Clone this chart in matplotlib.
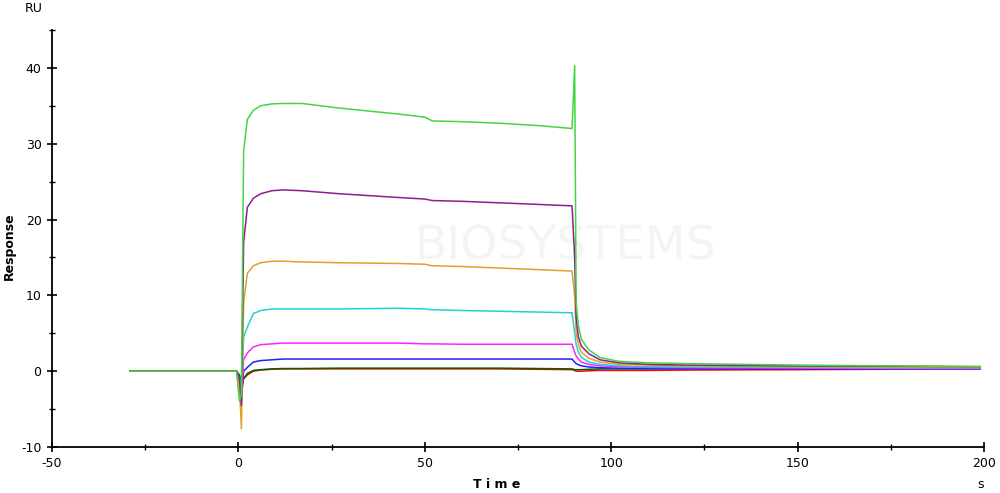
import matplotlib
matplotlib.use("Agg")
import matplotlib.pyplot as plt
from matplotlib.ticker import MultipleLocator

plt.rcParams['axes.unicode_minus'] = False

# time points (s) shared by all sensorgram curves
t = [-29, -0.5, 0.3, 0.8, 1.4, 2.4, 4, 6, 9, 12, 17, 27, 43, 50, 52, 60, 70, 80, 89.5,
     90.2, 90.6, 91.2, 92, 94, 97, 102, 110, 120, 150, 175, 199]

# response (RU) per curve
green = [0, 0, -4, -3, 29, 33.2, 34.4, 35.0, 35.25, 35.3, 35.3, 34.7, 33.9, 33.5, 33.0, 32.9,
         32.7, 32.4, 32.0, 40.3, 9.0, 6.0, 4.2, 2.8, 1.8, 1.3, 1.1, 1.0, 0.8, 0.7, 0.6]
purple = [0, 0, -1, -4.5, 17, 21.6, 22.8, 23.4, 23.8, 23.9, 23.8, 23.4, 22.9, 22.7, 22.5, 22.4,
          22.2, 22.0, 21.8, 15, 7, 4.5, 3.3, 2.3, 1.5, 1.1, 0.9, 0.8, 0.7, 0.65, 0.6]
orange = [0, 0, -2, -7.6, 9, 12.9, 13.9, 14.3, 14.5, 14.5, 14.4, 14.3, 14.2, 14.1, 13.9, 13.8,
          13.6, 13.4, 13.2, 10, 5, 3.5, 2.5, 1.7, 1.2, 0.9, 0.8, 0.7, 0.6, 0.55, 0.5]
cyan = [0, 0, -1, -3, 4.5, 5.8, 7.6, 8.0, 8.2, 8.2, 8.2, 8.2, 8.3, 8.2, 8.1, 8.0,
        7.9, 7.8, 7.7, 5, 3.5, 2.5, 1.8, 1.2, 0.9, 0.7, 0.6, 0.55, 0.5, 0.45, 0.45]
magenta = [0, 0, -1, -4, 1.5, 2.4, 3.2, 3.5, 3.6, 3.7, 3.7, 3.7, 3.7, 3.6, 3.6, 3.55,
           3.55, 3.55, 3.55, 2.5, 2.0, 1.6, 1.2, 0.9, 0.7, 0.6, 0.5, 0.45, 0.4, 0.35, 0.35]
blue = [0, 0, -1, -4, 0, 0.5, 1.2, 1.4, 1.5, 1.6, 1.6, 1.6, 1.6, 1.6, 1.6, 1.6,
        1.6, 1.6, 1.6, 1.2, 1.0, 0.85, 0.7, 0.55, 0.45, 0.4, 0.35, 0.3, 0.3, 0.3, 0.3]
red = [0, 0, -1, -2.5, -1, -0.5, 0.0, 0.15, 0.25, 0.3, 0.3, 0.3, 0.3, 0.3, 0.3, 0.3,
       0.3, 0.25, 0.2, 0.1, 0.0, 0.0, 0.0, 0.05, 0.1, 0.1, 0.1, 0.15, 0.2, 0.25, 0.3]
dark_green = [0, 0, -0.5, -1.5, -1, -0.3, 0.1, 0.2, 0.3, 0.35, 0.35, 0.4, 0.4, 0.4, 0.4, 0.4,
              0.4, 0.35, 0.3, 0.2, 0.2, 0.2, 0.2, 0.25, 0.3, 0.3, 0.3, 0.35, 0.4, 0.4, 0.45]

curves = [
    (red, '#ff0000'),
    (dark_green, '#006400'),
    (blue, '#1f1fff'),
    (magenta, '#ff22ff'),
    (cyan, '#22d2d2'),
    (orange, '#e0a030'),
    (purple, '#8e1e8e'),
    (green, '#44d444'),
]

fig = plt.figure(figsize=(10, 4.93), dpi=100)
ax = fig.add_axes([0.052, 0.0933, 0.932, 0.846])

# faint watermark
ax.text(0.565, 0.50, 'BIOSYSTEMS', transform=fig.transFigure, fontsize=34, color='#f4f4f4',
        ha='center', va='center', zorder=0)

for vals, col in curves:
    ax.plot(t, vals, color=col, linewidth=1.1)

ax.set_xlim(-50, 200)
ax.set_ylim(-10, 45)
for side in ['top', 'right']:
    ax.spines[side].set_visible(False)
for side in ['left', 'bottom']:
    ax.spines[side].set_linewidth(1.3)

ax.set_xticks([-50, 0, 50, 100, 150, 200])
ax.set_yticks([-10, 0, 10, 20, 30, 40])
ax.xaxis.set_minor_locator(MultipleLocator(25))
ax.yaxis.set_minor_locator(MultipleLocator(5))
ax.tick_params(which='major', direction='inout', length=7, width=1.2, labelsize=9, pad=4)
ax.tick_params(which='minor', direction='inout', length=4, width=1.0)

fig.text(0.497, 0.018, 'T i m e', fontsize=9, fontweight='bold', ha='center', va='center')
fig.text(0.981, 0.018, 's', fontsize=9, ha='center', va='center')
fig.text(0.025, 0.983, 'RU', fontsize=9, ha='left', va='center')
fig.text(0.009, 0.50, 'Response', fontsize=9, fontweight='bold', rotation=90, ha='center', va='center')

fig.savefig('out.png', dpi=100)
